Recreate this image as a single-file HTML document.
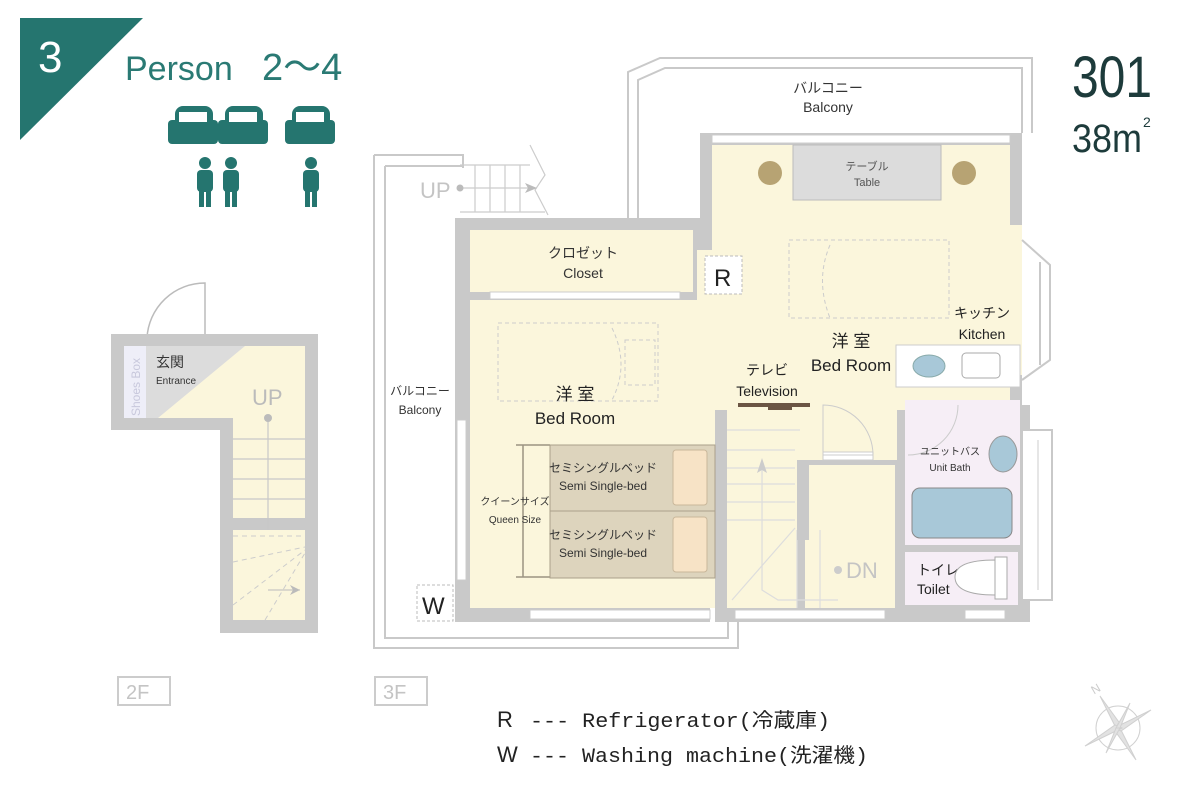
<!DOCTYPE html>
<html><head><meta charset="utf-8"><style>
html,body{margin:0;padding:0;background:#fff;width:1200px;height:800px;overflow:hidden}
svg{display:block}
text{font-family:"Liberation Sans","Noto Sans CJK JP",sans-serif}
.c{font-family:"Liberation Sans Narrow","Liberation Sans","Noto Sans CJK JP",sans-serif}
</style></head><body>
<svg width="1200" height="800" viewBox="0 0 1200 800" xmlns="http://www.w3.org/2000/svg">
<!-- header -->
<polygon points="20,18 143,18 20,140" fill="#25756f"/>
<text x="38" y="72" font-size="44" fill="#fff">3</text>
<text x="125" y="80" font-size="34" fill="#2a7a74">Person</text>
<text x="262" y="80" font-size="38" fill="#2a7a74">2～4</text>
<g fill="#25756f">
 <g id="bed"><rect x="175" y="106" width="38" height="22" rx="8"/><rect x="168" y="120" width="50" height="24" rx="4"/><rect x="179" y="112" width="28" height="10" fill="#fff"/></g>
 <use href="#bed" x="50"/><use href="#bed" x="117"/>
 <g id="p"><circle cx="205" cy="163" r="6"/><rect x="197" y="170" width="16" height="22" rx="4"/><rect x="199" y="188" width="5" height="19"/><rect x="206" y="188" width="5" height="19"/></g>
 <use href="#p" x="26"/><use href="#p" x="106"/>
</g>
<text x="1072" y="97" font-size="58" fill="#1d3b3b" class="c" textLength="80" lengthAdjust="spacingAndGlyphs">301</text>
<text x="1072" y="152" font-size="40" fill="#1d3b3b" class="c" textLength="70" lengthAdjust="spacingAndGlyphs">38m</text>
<text x="1143" y="127" font-size="14" fill="#1d3b3b">2</text>

<!-- 2F -->
<path d="M147,338 A58,58 0 0 1 205,283 L205,338" fill="none" stroke="#bbb" stroke-width="1.5"/>
<rect x="147" y="335" width="58" height="8" fill="#fff" stroke="#ccc"/>
<path d="M111,334 H318 V633 H220 V430 H111 Z" fill="#c9c9c9"/>
<rect x="124" y="346" width="181" height="72" fill="#fbf6dc"/>
<polygon points="146,346 245,346 158,418 146,418" fill="#dcdcdc"/>
<rect x="124" y="346" width="22" height="72" fill="#eeeef8"/>
<text transform="translate(140,416) rotate(-90)" font-size="12" fill="#c8c8dc">Shoes Box</text>
<text x="156" y="367" font-size="14" fill="#333">玄関</text>
<text x="156" y="384" font-size="10" fill="#333" class="c">Entrance</text>
<text x="252" y="405" font-size="22" fill="#bbb" class="c">UP</text>
<rect x="233" y="418" width="72" height="100" fill="#fbf6dc"/>
<g stroke="#c8c8c8" stroke-width="1.2"><line x1="268" y1="418" x2="268" y2="590"/><line x1="233" y1="439" x2="305" y2="439"/><line x1="233" y1="459" x2="305" y2="459"/><line x1="233" y1="479" x2="305" y2="479"/><line x1="233" y1="499" x2="305" y2="499"/></g>
<circle cx="268" cy="418" r="4" fill="#bbb"/>
<rect x="233" y="530" width="72" height="90" fill="#fbf6dc"/>
<g stroke="#ccc" stroke-dasharray="5,4" fill="none"><line x1="233" y1="536" x2="305" y2="536"/><line x1="233" y1="562" x2="305" y2="547"/><line x1="233" y1="605" x2="305" y2="550"/><line x1="265" y1="620" x2="305" y2="553"/></g>
<path d="M268,590 H300" stroke="#bbb" fill="none"/><polygon points="300,590 290,585 293,590 290,595" fill="#bbb"/>
<rect x="118" y="677" width="52" height="28" fill="none" stroke="#ccc" stroke-width="2"/>
<text x="126" y="699" font-size="20" fill="#c4c4c4">2F</text>
<rect x="375" y="677" width="52" height="28" fill="none" stroke="#ccc" stroke-width="2"/>
<text x="383" y="699" font-size="20" fill="#c4c4c4">3F</text>

<!-- 3F balconies -->
<g fill="none" stroke="#c9c9c9" stroke-width="2">
 <path d="M374,155 H463 V168 M374,155 V648 H738 V622"/>
 <path d="M385,166 H463 M385,166 V638 H728 V622"/>
 <path d="M628,218 V72 L660,58 H1032 V133"/>
 <path d="M638,218 V80 L665,68 H1022 V133"/>
</g>
<!-- upper stair -->
<g stroke="#ccc" stroke-width="1.2" fill="none">
 <line x1="460" y1="165" x2="530" y2="165"/><line x1="460" y1="212" x2="545" y2="212"/>
 <line x1="475" y1="165" x2="475" y2="212"/><line x1="490" y1="165" x2="490" y2="212"/><line x1="505" y1="165" x2="505" y2="212"/><line x1="520" y1="165" x2="520" y2="212"/>
 <line x1="460" y1="188" x2="530" y2="188"/><path d="M530,145 L545,175 L535,190 L548,215"/>
</g>
<circle cx="460" cy="188" r="3.5" fill="#bbb"/><polygon points="537,188 525,183 528,188 525,193" fill="#bbb"/>
<text x="420" y="198" font-size="22" fill="#c4c4c4" class="c">UP</text>

<!-- walls -->
<rect x="455" y="218" width="255" height="404" fill="#c9c9c9"/>
<rect x="700" y="133" width="322" height="280" fill="#c9c9c9"/>
<rect x="715" y="405" width="315" height="217" fill="#c9c9c9"/>
<!-- floors -->
<rect x="470" y="230" width="223" height="62" fill="#fbf6dc"/>
<rect x="470" y="300" width="245" height="308" fill="#fbf6dc"/>
<rect x="712" y="145" width="298" height="265" fill="#fbf6dc"/>
<rect x="1002" y="225" width="20" height="150" fill="#fbf6dc"/>
<rect x="697" y="250" width="20" height="160" fill="#fbf6dc"/>
<rect x="727" y="410" width="170" height="50" fill="#fbf6dc"/>
<rect x="727" y="460" width="70" height="148" fill="#fbf6dc"/>
<rect x="805" y="465" width="90" height="143" fill="#fbf6dc"/>
<rect x="905" y="400" width="115" height="145" fill="#f6eef6"/>
<rect x="905" y="552" width="113" height="53" fill="#f6eef6"/>
<!-- bay window -->
<g fill="none" stroke="#c9c9c9" stroke-width="2"><path d="M1022,240 L1050,265 V360 L1022,380"/><path d="M1040,262 V365"/></g>
<rect x="1022" y="430" width="30" height="170" fill="#fff" stroke="#c9c9c9" stroke-width="2"/>
<line x1="1038" y1="440" x2="1038" y2="590" stroke="#ccc"/>
<!-- windows -->
<g fill="#fff" stroke="#ccc">
 <rect x="712" y="135" width="298" height="8"/>
 <rect x="530" y="610" width="180" height="9"/><rect x="735" y="610" width="150" height="9"/><rect x="965" y="610" width="40" height="9"/>
 <rect x="490" y="292" width="190" height="7"/>
 <rect x="457" y="420" width="9" height="160"/>
 <rect x="823" y="452" width="50" height="8"/>
</g>
<!-- closet -->
<text x="583" y="258" font-size="14" fill="#333" text-anchor="middle">クロゼット</text>
<text x="583" y="278" font-size="14" fill="#333" text-anchor="middle" class="c">Closet</text>
<!-- R -->
<rect x="705" y="256" width="37" height="38" fill="#fff" stroke="#bbb" stroke-dasharray="3,2"/>
<text x="714" y="286" font-size="24" fill="#222">R</text>
<!-- table -->
<rect x="793" y="145" width="148" height="55" fill="#dcdcdc" stroke="#bbb"/>
<text x="867" y="170" font-size="11" fill="#555" text-anchor="middle">テーブル</text>
<text x="867" y="186" font-size="11" fill="#555" text-anchor="middle" class="c">Table</text>
<circle cx="770" cy="173" r="12" fill="#b7a373"/><circle cx="964" cy="173" r="12" fill="#b7a373"/>
<text x="828" y="93" font-size="14" fill="#333" text-anchor="middle">バルコニー</text>
<text x="828" y="112" font-size="14" fill="#333" text-anchor="middle" class="c">Balcony</text>
<!-- dashed beds -->
<g fill="none" stroke="#ccc" stroke-dasharray="4,3"><rect x="789" y="240" width="160" height="78"/><rect x="498" y="323" width="160" height="78"/><path d="M830,245 Q815,280 830,318"/><path d="M612,328 Q630,365 612,400"/><rect x="625" y="340" width="30" height="45"/></g>
<!-- bedroom texts -->
<text x="851" y="347" font-size="17" fill="#222" text-anchor="middle">洋 室</text>
<text x="851" y="371" font-size="17" fill="#222" text-anchor="middle" class="c">Bed Room</text>
<text x="575" y="400" font-size="17" fill="#222" text-anchor="middle">洋 室</text>
<text x="575" y="424" font-size="17" fill="#222" text-anchor="middle" class="c">Bed Room</text>
<text x="982" y="318" font-size="14" fill="#222" text-anchor="middle">キッチン</text>
<text x="982" y="339" font-size="14" fill="#222" text-anchor="middle" class="c">Kitchen</text>
<text x="767" y="375" font-size="14" fill="#222" text-anchor="middle">テレビ</text>
<text x="767" y="396" font-size="14" fill="#222" text-anchor="middle" class="c">Television</text>
<rect x="738" y="403" width="72" height="4" fill="#6b5544"/><rect x="768" y="406" width="24" height="4" fill="#6b5544"/>
<text x="420" y="395" font-size="12" fill="#333" text-anchor="middle">バルコニー</text>
<text x="420" y="414" font-size="12" fill="#333" text-anchor="middle" class="c">Balcony</text>
<!-- kitchen -->
<rect x="896" y="345" width="124" height="42" fill="#fff" stroke="#ccc"/>
<ellipse cx="929" cy="366" rx="16" ry="11" fill="#a8c8d8" stroke="#8aa"/>
<rect x="962" y="353" width="38" height="25" rx="4" fill="#fff" stroke="#aaa"/>
<!-- door arcs -->
<path d="M823,405 A50,50 0 0 1 873,455 L823,455 Z" fill="none" stroke="#ccc"/>
<path d="M958,405 A50,50 0 0 1 908,455" fill="none" stroke="#ccc"/>
<!-- bath -->
<text x="950" y="455" font-size="10" fill="#333" text-anchor="middle">ユニットバス</text>
<text x="950" y="471" font-size="10" fill="#333" text-anchor="middle" class="c">Unit Bath</text>
<ellipse cx="1003" cy="454" rx="14" ry="18" fill="#a8c8d8" stroke="#999"/>
<rect x="912" y="488" width="100" height="50" rx="8" fill="#a8c8d8" stroke="#888"/>
<rect x="905" y="545" width="115" height="7" fill="#c9c9c9"/>
<text x="917" y="575" font-size="14" fill="#222">トイレ</text>
<text x="917" y="594" font-size="14" fill="#222" class="c">Toilet</text>
<path d="M995,560 Q955,560 955,577 Q955,595 995,595 Z" fill="#fff" stroke="#aaa"/>
<rect x="995" y="557" width="12" height="42" fill="#fff" stroke="#aaa"/>
<!-- stairs 3F -->
<g stroke="#ddd" stroke-width="1.2" fill="none">
 <line x1="727" y1="430" x2="800" y2="430"/><line x1="727" y1="450" x2="795" y2="450"/><line x1="727" y1="468" x2="795" y2="468"/><line x1="727" y1="484" x2="795" y2="484"/><line x1="727" y1="502" x2="795" y2="502"/><line x1="727" y1="520" x2="795" y2="520"/>
 <line x1="732" y1="600" x2="795" y2="528"/><path d="M762,540 V590 L778,600 H838"/><line x1="797" y1="530" x2="797" y2="608"/><line x1="820" y1="530" x2="820" y2="608"/>
 <line x1="762" y1="465" x2="762" y2="540"/>
</g>
<polygon points="762,458 757,473 762,470 767,473" fill="#ccc"/>
<circle cx="838" cy="570" r="4" fill="#ccc"/>
<text x="846" y="578" font-size="22" fill="#c4c4c4" class="c">DN</text>
<rect x="797" y="460" width="12" height="80" fill="#c9c9c9"/>
<!-- queen beds -->
<g stroke="#9b9482" stroke-width="1.5"><line x1="516" y1="445" x2="550" y2="445"/><line x1="516" y1="577" x2="550" y2="577"/><line x1="523" y1="445" x2="523" y2="577"/></g>
<rect x="550" y="445" width="165" height="66" fill="#ddd4bd" stroke="#aaa08a"/>
<rect x="550" y="511" width="165" height="67" fill="#ddd4bd" stroke="#aaa08a"/>
<rect x="673" y="450" width="34" height="55" rx="3" fill="#f7e3c6" stroke="#c9b79a"/>
<rect x="673" y="517" width="34" height="55" rx="3" fill="#f7e3c6" stroke="#c9b79a"/>
<text x="603" y="472" font-size="12" fill="#333" text-anchor="middle">セミシングルベッド</text>
<text x="603" y="490" font-size="12" fill="#333" text-anchor="middle" class="c">Semi Single-bed</text>
<text x="603" y="539" font-size="12" fill="#333" text-anchor="middle">セミシングルベッド</text>
<text x="603" y="557" font-size="12" fill="#333" text-anchor="middle" class="c">Semi Single-bed</text>
<text x="515" y="505" font-size="10" fill="#333" text-anchor="middle">クイーンサイズ</text>
<text x="515" y="523" font-size="10" fill="#333" text-anchor="middle" class="c">Queen Size</text>
<!-- W -->
<rect x="417" y="585" width="36" height="36" fill="#fff" stroke="#bbb" stroke-dasharray="3,2"/>
<text x="422" y="614" font-size="24" fill="#222">W</text>
<!-- legend -->
<text x="497" y="727" font-size="22" fill="#222">R</text>
<text x="530" y="727" font-size="20" fill="#222" style="font-family:'Liberation Mono','Noto Sans CJK JP',monospace" textLength="300" lengthAdjust="spacingAndGlyphs">--- Refrigerator(冷蔵庫)</text>
<text x="497" y="762" font-size="22" fill="#222">W</text>
<text x="530" y="762" font-size="20" fill="#222" style="font-family:'Liberation Mono','Noto Sans CJK JP',monospace" textLength="338" lengthAdjust="spacingAndGlyphs">--- Washing machine(洗濯機)</text>
<!-- compass -->
<g transform="translate(1118,728)" fill="#e2e2e2" stroke="#d0d0d0">
 <circle r="22" fill="none"/>
 <polygon points="-18,-32 3,-3 0,4"/><polygon points="18,32 -3,3 0,-4"/>
 <polygon points="33,-18 3,3 -4,0"/><polygon points="-33,18 -3,-3 4,0"/>
 <polygon points="12,-25 2,0 -2,0"/><polygon points="-12,25 -2,0 2,0"/>
 <text x="-26" y="-35" font-size="12" fill="#ccc" stroke="none" transform="rotate(-30 -22 -38)">N</text>
</g>
</svg>
</body></html>
